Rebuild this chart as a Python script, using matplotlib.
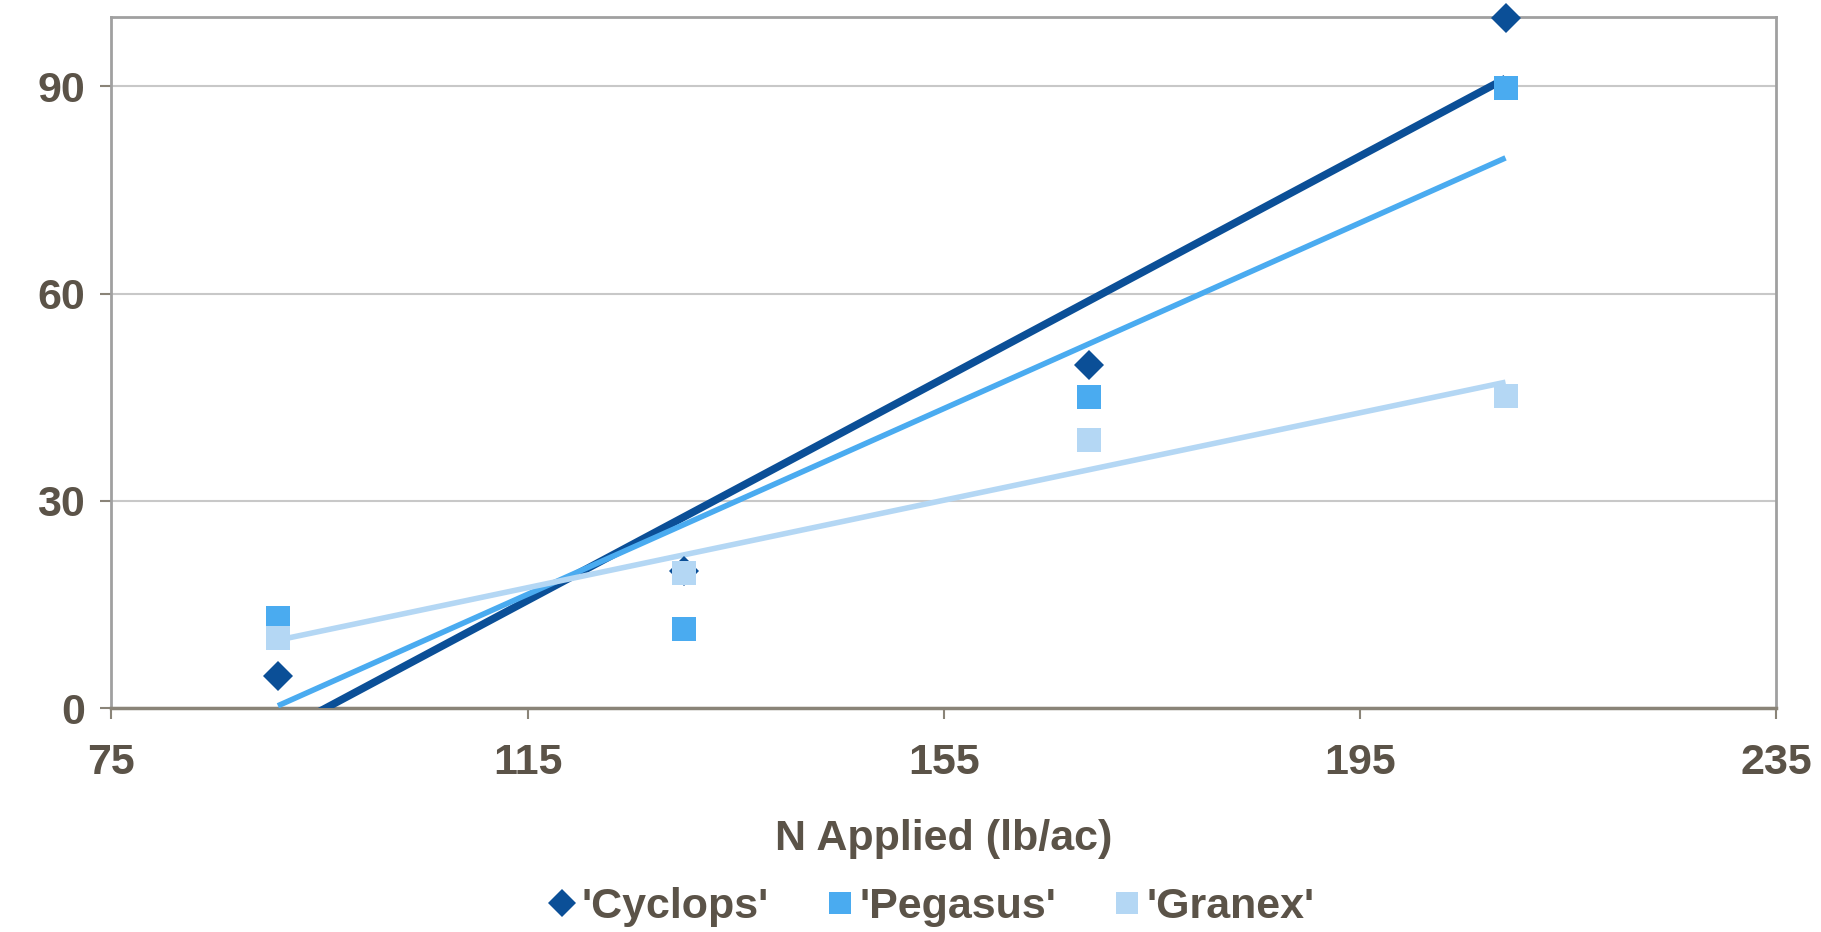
import numpy as np
import matplotlib
matplotlib.use("Agg")
import matplotlib.pyplot as plt

# Datos: N aplicado (lb/ac) y respuesta por variedad
n_aplicado = [91, 130, 169, 209]
variedades = ["'Cyclops'", "'Pegasus'", "'Granex'"]
cyclops = [4.7, 19.8, 49.7, 99.9]
pegasus = [13.1, 11.4, 45.0, 89.8]
granex = [10.1, 19.6, 38.8, 45.2]

valores = [cyclops, pegasus, granex]
colores = ["#0b4f97", "#4aabf0", "#b4d7f4"]
marcadores = ["D", "s", "s"]
tam_marcador = [15, 17, 17]
ancho_linea = [5.5, 4.0, 4.0]

texto = "#5b5348"
plt.rcParams["font.family"] = ["Liberation Sans", "DejaVu Sans"]
plt.rcParams["font.weight"] = "bold"

fig = plt.figure(figsize=(18.21, 9.32), dpi=100)
ax = fig.add_axes([0.0612, 0.2403, 0.9141, 0.741])

x = np.array(n_aplicado, dtype=float)

# Lineas de tendencia (regresion lineal de cada serie)
for y, c, lw in zip(valores, colores, ancho_linea):
    m, b = np.polyfit(x, y, 1)
    ax.plot(x[[0, -1]], m * x[[0, -1]] + b, color=c, lw=lw,
            solid_capstyle="butt", zorder=3)

# Puntos
for y, c, mk, ms, nombre in zip(valores, colores, marcadores, tam_marcador, variedades):
    ax.plot(x, y, linestyle="none", marker=mk, markersize=ms, color=c,
            markeredgewidth=0, label=nombre, zorder=4, clip_on=False)

ax.set_xlim(75, 235)
ax.set_ylim(0, 100)
ax.set_xticks([75, 115, 155, 195, 235])
ax.set_yticks([0, 30, 60, 90])

ax.grid(axis="y", color="#c8c8c8", lw=1.5)
ax.set_axisbelow(True)
for lado in ["top", "right", "left"]:
    ax.spines[lado].set_color("#a0a0a0")
    ax.spines[lado].set_linewidth(2)
ax.spines["bottom"].set_color("#8a8478")
ax.spines["bottom"].set_linewidth(2.5)

ax.tick_params(axis="both", colors="#8a8478", length=8, width=1.5,
               labelcolor=texto, labelsize=31)
ax.tick_params(axis="x", pad=17)
ax.tick_params(axis="y", pad=11)
for t in ax.get_xticklabels() + ax.get_yticklabels():
    t.set_fontweight("bold")

ax.set_xlabel("N Applied (lb/ac)", fontsize=31, fontweight="bold",
              color=texto, labelpad=26)

ley = fig.legend(loc="center", bbox_to_anchor=(0.51, 0.027), ncol=3,
                 frameon=False, fontsize=31, handletextpad=0.0,
                 columnspacing=1.2, markerscale=0.95, handlelength=0.9)
for t in ley.get_texts():
    t.set_color(texto)
    t.set_fontweight("bold")

fig.savefig("out.png", dpi=100)
